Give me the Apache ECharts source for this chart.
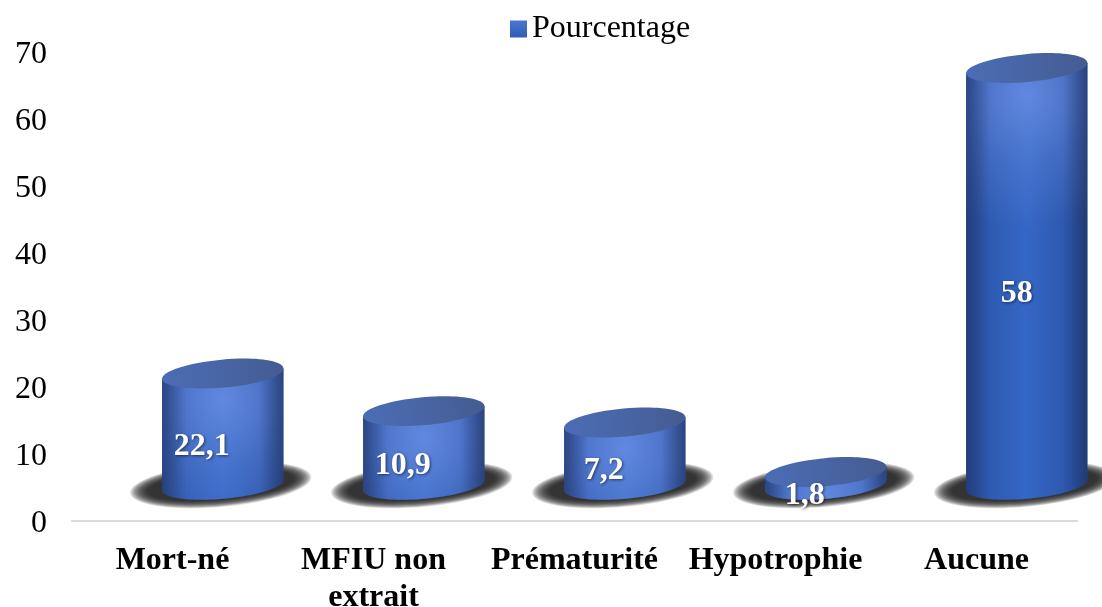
<!DOCTYPE html>
<html>
<head>
<meta charset="utf-8">
<style>
  html, body { margin: 0; background: #fff; }
  #chart { width: 1102px; height: 607px; }
</style>
<script src="https://cdn.jsdelivr.net/npm/echarts@6/dist/echarts.min.js"></script>
</head>
<body>
<div id="chart"></div>
<script>
const categories = ["Mort-né", "MFIU non\nextrait", "Prématurité", "Hypotrophie", "Aucune"];
// printed labels do not follow the drawn height of the cylinders, so both are kept
const pctLabels = ["22,1", "10,9", "7,2", "1,8", "58"];
const cylinderTops = [22, 16.4, 14.7, 7.3, 67.6];
const floorValue = 5.4; // the 3D floor sits above the axis line
const yTicks = { min: 0, max: 70, interval: 10 };
const serif = '"Liberation Serif", "Times New Roman", serif';

function ellipsePoint(cx, cy, rx, ry, a, t) {
  return [
    cx + rx * Math.cos(t) * Math.cos(a) + ry * Math.sin(t) * Math.sin(a),
    cy - rx * Math.cos(t) * Math.sin(a) + ry * Math.sin(t) * Math.cos(a)
  ];
}

function renderCylinder(params, api) {
  const i = api.value(0);
  const band = api.size([1, 0])[0];
  const top = api.coord([i, api.value(1)]);
  const base = api.coord([i, floorValue]);
  const cx = top[0] + band * 0.25;
  const rx = band * 0.303, ry = 14, a = 0.09;
  const t0 = Math.atan2(ry * Math.sin(a), rx * Math.cos(a));

  const body = [ellipsePoint(cx, top[1], rx, ry, a, t0)];
  for (let k = 0; k <= 48; k++) {
    body.push(ellipsePoint(cx, base[1], rx, ry, a, t0 + Math.PI * k / 48));
  }
  body.push(ellipsePoint(cx, top[1], rx, ry, a, t0 + Math.PI));

  const label = pctLabels[params.dataIndex];
  const labelY = api.coord([i, (api.value(1) + floorValue) / 2 - 2.6])[1];

  // soft floor shadow, stacked ellipses since the edge has to fade out
  const children = [];
  for (let s = 0; s < 16; s++) {
    children.push({
      type: "ellipse",
      shape: { cx: 0, cy: 0, rx: 91 - s * 1.2, ry: 22 - s * 0.5 },
      x: cx - 2, y: base[1], rotation: a,
      style: { fill: "rgba(30,30,30,0.13)" }
    });
  }

  children.push(
    {
      type: "polygon",
      shape: { points: body },
      style: {
        fill: {
          type: "linear", x: 0, y: 0, x2: 1, y2: 0,
          colorStops: [
            { offset: 0, color: "#2A4E9C" },
            { offset: 0.14, color: "#2E58AE" },
            { offset: 0.5, color: "#3467C6" },
            { offset: 0.86, color: "#2D56AA" },
            { offset: 1, color: "#28498F" }
          ]
        }
      }
    },
    {
      type: "polygon",
      shape: { points: body },
      style: {
        fill: {
          type: "radial", x: cx, y: top[1] + 26, r: 135, global: true,
          colorStops: [
            { offset: 0, color: "rgba(116,150,232,0.7)" },
            { offset: 0.5, color: "rgba(116,150,232,0.28)" },
            { offset: 1, color: "rgba(116,150,232,0)" }
          ]
        }
      }
    },
    {
      type: "polygon",
      shape: { points: body },
      style: {
        fill: {
          type: "linear", x: 0, y: 0, x2: 1, y2: 0,
          colorStops: [
            { offset: 0, color: "rgba(30,50,100,0.6)" },
            { offset: 0.2, color: "rgba(30,50,100,0)" },
            { offset: 0.8, color: "rgba(30,50,100,0)" },
            { offset: 1, color: "rgba(30,50,100,0.6)" }
          ]
        }
      }
    },
    {
      type: "ellipse",
      shape: { cx: 0, cy: 0, rx: rx, ry: ry },
      x: cx, y: top[1], rotation: a,
      style: {
        fill: {
          type: "linear", x: 0, y: 0, x2: 1, y2: 0,
          colorStops: [
            { offset: 0, color: "#4B6DB6" },
            { offset: 1, color: "#455C92" }
          ]
        }
      }
    },
    {
      type: "text",
      x: cx + (label.length > 2 ? -21 : -10),
      y: labelY,
      style: {
        text: label,
        fill: "#fff",
        font: "bold 32px " + serif,
        align: "center",
        verticalAlign: "middle",
        textShadowColor: "rgba(0,0,0,0.55)",
        textShadowBlur: 3,
        textShadowOffsetX: 1,
        textShadowOffsetY: 1
      }
    }
  );

  return { type: "group", children: children };
}

const chart = echarts.init(document.getElementById("chart"));
chart.setOption({
  animation: false,
  backgroundColor: "#fff",
  textStyle: { fontFamily: serif },
  grid: { left: 72, right: 25, top: 52, bottom: 86, outerBoundsMode: "none" },
  legend: {
    left: 505,
    top: 8,
    itemWidth: 17,
    itemHeight: 17,
    icon: "rect",
    data: ["Pourcentage"],
    textStyle: { fontFamily: serif, fontSize: 32, color: "#000" }
  },
  xAxis: {
    type: "category",
    data: categories,
    axisTick: { show: false },
    axisLine: { lineStyle: { color: "#D9D9D9", width: 2 } },
    axisLabel: {
      interval: 0,
      margin: 21,
      fontFamily: serif,
      fontSize: 32,
      fontWeight: "bold",
      lineHeight: 37,
      color: "#000"
    }
  },
  yAxis: {
    type: "value",
    min: yTicks.min,
    max: yTicks.max,
    interval: yTicks.interval,
    axisLine: { show: false },
    axisTick: { show: false },
    splitLine: { show: false },
    axisLabel: {
      margin: 25,
      formatter: "{v|{value}}",
      rich: {
        // pushes the digits down a little inside the line box
        v: { fontFamily: serif, fontSize: 32, color: "#000", lineHeight: 38, verticalAlign: "bottom" }
      }
    }
  },
  series: [
    {
      name: "Pourcentage",
      type: "custom",
      renderItem: renderCylinder,
      itemStyle: {
        color: {
          type: "linear", x: 0, y: 0, x2: 0, y2: 1,
          colorStops: [
            { offset: 0, color: "#4A76CE" },
            { offset: 1, color: "#2F5DB8" }
          ]
        }
      },
      encode: { x: 0, y: 1 },
      data: cylinderTops.map(function (v, i) { return [i, v]; })
    }
  ]
});
</script>
</body>
</html>
